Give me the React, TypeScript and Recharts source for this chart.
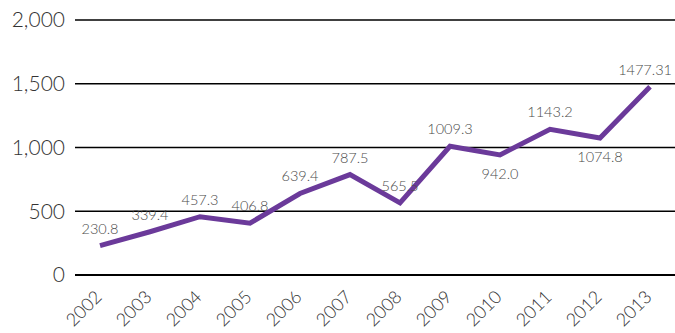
import React from 'react';
import { LineChart, Line, XAxis, YAxis, CartesianGrid, LabelList } from 'recharts';

const years = ['2002', '2003', '2004', '2005', '2006', '2007', '2008', '2009', '2010', '2011', '2012', '2013'];
const values = [230.8, 339.4, 457.3, 406.8, 639.4, 787.5, 565.5, 1009.3, 942.0, 1143.2, 1074.8, 1477.31];
const valueLabels = ['230.8', '339.4', '457.3', '406.8', '639.4', '787.5', '565.5', '1009.3', '942.0', '1143.2', '1074.8', '1477.31'];
const yTicks = [0, 500, 1000, 1500, 2000];

const data = years.map((y, i) => ({ year: y, value: values[i], label: valueLabels[i] }));

const belowYears = new Set(['2010', '2012']);
const FONT = 'Lato, "Open Sans", sans-serif';

const XTick = (props: any) => {
  const { x, y, payload } = props;
  return (
    <text
      x={x + 3}
      y={y + 15}
      transform={`rotate(-45, ${x + 3}, ${y + 15})`}
      textAnchor="end"
      fontSize={18}
      fontFamily={FONT}
      fontWeight={300}
      fill="#333"
    >
      {payload.value}
    </text>
  );
};

const PointLabel = (props: any) => {
  const { x, y, index } = props;
  const d = data[index];
  const below = belowYears.has(d.year);
  const isLast = index === data.length - 1;
  return (
    <text
      x={isLast ? 672 : x}
      y={below ? y + 24 : y - 12}
      textAnchor={isLast ? 'end' : 'middle'}
      fontSize={14.5}
      fontFamily={FONT}
      fontWeight={300}
      fill="#4a4a4a"
    >
      {d.label}
    </text>
  );
};

export default function App() {
  return (
    <div style={{ position: 'absolute', left: 0, top: 0, background: '#fff' }}>
      <LineChart width={675} height={333} data={data} margin={{ top: 20, right: 0, left: 0, bottom: 0 }}>
        <CartesianGrid vertical={false} stroke="#000" strokeWidth={1.5} />
        <XAxis
          dataKey="year"
          tick={<XTick />}
          tickLine={false}
          axisLine={{ stroke: '#000', strokeWidth: 2 }}
          interval={0}
          height={58}
          padding={{ left: 25, right: 25 }}
        />
        <YAxis
          domain={[0, 2000]}
          ticks={yTicks}
          width={75}
          tickLine={false}
          axisLine={false}
          tickMargin={4}
          tickFormatter={(v: number) => v.toLocaleString('en-US')}
          tick={{ fontSize: 21, fontFamily: FONT, fontWeight: 300, fill: '#333' }}
        />
        <Line
          type="linear"
          dataKey="value"
          stroke="#6b3a9a"
          strokeWidth={5}
          dot={false}
          isAnimationActive={false}
        >
          <LabelList dataKey="value" content={<PointLabel />} />
        </Line>
      </LineChart>
    </div>
  );
}
